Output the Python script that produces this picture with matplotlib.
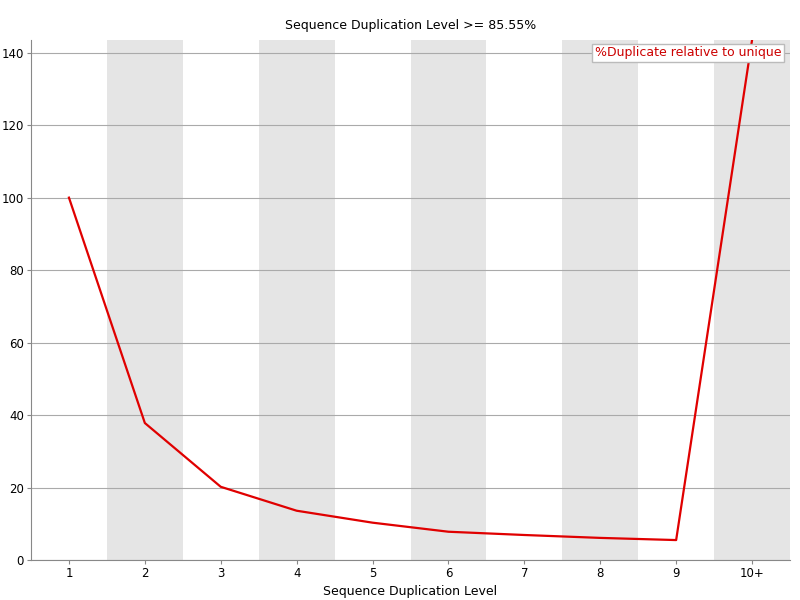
import matplotlib.pyplot as plt

levels = ["1", "2", "3", "4", "5", "6", "7", "8", "9", "10+"]
dup_pct = [100.0, 37.8, 20.2, 13.6, 10.3, 7.8, 6.9, 6.1, 5.5, 143.5]

fig = plt.figure(figsize=(8, 6), dpi=100)
ax = fig.add_axes([31 / 800, 40 / 600, 759 / 800, 520 / 600])

x = list(range(len(levels)))
for i in x:
    if i % 2 == 1:
        ax.axvspan(i - 0.5, i + 0.5, color="#e5e5e5", lw=0, zorder=0)

ax.set_ylim(0, 143.5)
ax.set_xlim(-0.5, len(levels) - 0.5)
ax.set_yticks(range(0, 141, 20))
ax.yaxis.grid(True, color="#aaaaaa", lw=0.8, zorder=1)
ax.set_axisbelow(True)

ax.plot(x, dup_pct, color="#e00000", lw=1.6, zorder=3,
        label="%Duplicate relative to unique")

ax.set_xticks(x)
ax.set_xticklabels(levels)
ax.tick_params(labelsize=8.5, length=3, pad=2, color="#888888")
for s in ["top", "right"]:
    ax.spines[s].set_visible(False)
for s in ["left", "bottom"]:
    ax.spines[s].set_color("#888888")

ax.set_title("Sequence Duplication Level >= 85.55%", fontsize=9, pad=8)
ax.set_xlabel("Sequence Duplication Level", fontsize=9, labelpad=4)

leg = ax.legend(loc="upper right", fontsize=9, handlelength=0, handletextpad=0,
                fancybox=False, borderpad=0.2, framealpha=1,
                bbox_to_anchor=(1.0, 1.005))
leg.get_frame().set_edgecolor("#bbbbbb")
for t in leg.get_texts():
    t.set_color("#cc0000")
for h in leg.legend_handles:
    h.set_visible(False)

fig.savefig("out.png", dpi=100)
